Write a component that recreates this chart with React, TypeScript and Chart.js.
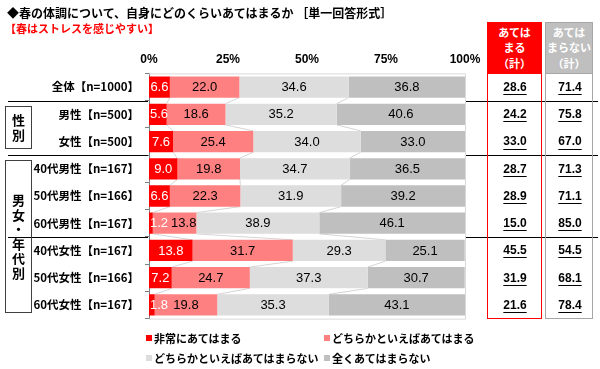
import React, { useEffect, useRef } from 'react';
import { Chart, registerables } from 'chart.js';

Chart.register(...registerables);

const categories = [
  '全体【n=1000】',
  '男性【n=500】',
  '女性【n=500】',
  '40代男性【n=167】',
  '50代男性【n=166】',
  '60代男性【n=167】',
  '40代女性【n=167】',
  '50代女性【n=166】',
  '60代女性【n=167】',
];
const seriesNames = ['非常にあてはまる', 'どちらかといえばあてはまる', 'どちらかといえばあてはまらない', '全くあてはまらない'];
const veryMuch = [6.6, 5.6, 7.6, 9.0, 6.6, 1.2, 13.8, 7.2, 1.8];
const somewhat = [22.0, 18.6, 25.4, 19.8, 22.3, 13.8, 31.7, 24.7, 19.8];
const somewhatNot = [34.6, 35.2, 34.0, 34.7, 31.9, 38.9, 29.3, 37.3, 35.3];
const notAtAll = [36.8, 40.6, 33.0, 36.5, 39.2, 46.1, 25.1, 30.7, 43.1];
const applyTotal = [28.6, 24.2, 33.0, 28.7, 28.9, 15.0, 45.5, 31.9, 21.6];
const notApplyTotal = [71.4, 75.8, 67.0, 71.3, 71.1, 85.0, 54.5, 68.1, 78.4];
const xTickValues = [0, 25, 50, 75, 100];
const groupBreaks = [0, 2, 5]; // separator after these category indices
const groupBoxes = [
  { label: '性別', from: 1, to: 2 },
  { label: '男女・年代別', from: 3, to: 8 },
];
const colors = ['#FF0000', '#FF8080', '#DDDDDD', '#BFBFBF'];

const JP = '"Noto Sans CJK JP", "Noto Sans", sans-serif';
const NUM = '"Liberation Sans", Arial, sans-serif';

const RED_COL = { left: 487, right: 542, cx: 515 };
const GRAY_COL = { left: 545, right: 593, cx: 570 };

const overlayPlugin = {
  id: 'overlay',
  beforeDatasetsDraw(chart: any) {
    const { ctx, chartArea: ca, scales } = chart;
    const y = scales.y;
    const x = scales.x;
    ctx.save();
    // plot area border
    ctx.strokeStyle = '#D9D9D9';
    ctx.lineWidth = 1;
    ctx.beginPath();
    ctx.moveTo(ca.left, ca.top + 0.5);
    ctx.lineTo(ca.right + 0.5, ca.top + 0.5);
    ctx.lineTo(ca.right + 0.5, ca.bottom + 0.5);
    ctx.lineTo(ca.left, ca.bottom + 0.5);
    ctx.stroke();
    // series lines
    const meta0 = chart.getDatasetMeta(0);
    const series = chart.data.datasets.map((d: any) => d.data as number[]);
    ctx.strokeStyle = '#D4D4D4';
    for (let i = 0; i < categories.length - 1; i++) {
      const e0: any = meta0.data[i];
      const e1: any = meta0.data[i + 1];
      const h0 = e0.getProps(['height'], true).height;
      const h1 = e1.getProps(['height'], true).height;
      const yA = y.getPixelForValue(i) + h0 / 2;
      const yB = y.getPixelForValue(i + 1) - h1 / 2;
      let cA = 0;
      let cB = 0;
      for (let s = 0; s < series.length - 1; s++) {
        cA += series[s][i];
        cB += series[s][i + 1];
        ctx.beginPath();
        ctx.moveTo(x.getPixelForValue(cA), yA);
        ctx.lineTo(x.getPixelForValue(cB), yB);
        ctx.stroke();
      }
    }
    ctx.restore();
  },
  afterDatasetsDraw(chart: any) {
    const { ctx, chartArea: ca, scales } = chart;
    const y = scales.y;
    ctx.save();
    // data labels
    ctx.textBaseline = 'middle';
    ctx.textAlign = 'center';
    ctx.font = `13px ${NUM}`;
    const rightEdges: number[] = categories.map(() => -Infinity);
    chart.data.datasets.forEach((ds: any, di: number) => {
      const meta = chart.getDatasetMeta(di);
      meta.data.forEach((el: any, i: number) => {
        const v = ds.data[i] as number;
        const p = el.getProps(['x', 'base', 'y'], true);
        const text = v.toFixed(1);
        const w = ctx.measureText(text).width;
        let cx = (p.x + p.base) / 2;
        if (cx - w / 2 < ca.left + 1) cx = ca.left + 1 + w / 2;
        if (cx - w / 2 < rightEdges[i] + 3) cx = rightEdges[i] + 3 + w / 2;
        rightEdges[i] = cx + w / 2;
        ctx.fillStyle = di === 0 ? '#FFFFFF' : '#000000';
        ctx.fillText(text, cx, p.y + 0.5);
      });
    });
    // separators
    ctx.strokeStyle = '#000000';
    ctx.lineWidth = 1;
    groupBreaks.forEach((gi) => {
      const yy = Math.round((y.getPixelForValue(gi) + y.getPixelForValue(gi + 1)) / 2) + 0.5;
      ctx.beginPath();
      ctx.moveTo(8, yy);
      ctx.lineTo(ca.left - 1, yy);
      ctx.moveTo(ca.right + 1, yy);
      ctx.lineTo(598, yy);
      ctx.stroke();
    });
    // group boxes
    const step = y.getPixelForValue(1) - y.getPixelForValue(0);
    groupBoxes.forEach((g) => {
      const top = Math.round(y.getPixelForValue(g.from) - step / 2 + 5) + 0.5;
      const bottom = Math.round(y.getPixelForValue(g.to) + step / 2 - 7) + 0.5;
      ctx.strokeStyle = '#404040';
      ctx.strokeRect(5.5, top, 26, bottom - top);
      ctx.fillStyle = '#000000';
      ctx.font = `bold 13px ${JP}`;
      ctx.textAlign = 'center';
      const chars = Array.from(g.label);
      const lh = 14.5;
      const mid = (top + bottom) / 2;
      chars.forEach((c, k) => {
        ctx.fillText(c, 18.5, mid + (k - (chars.length - 1) / 2) * lh);
      });
    });
    // right-hand totals
    ctx.font = `bold 12px ${NUM}`;
    ctx.fillStyle = '#000000';
    ctx.strokeStyle = '#000000';
    ctx.textAlign = 'center';
    categories.forEach((_, i) => {
      const yy = y.getPixelForValue(i);
      [
        { v: applyTotal[i], cx: RED_COL.cx },
        { v: notApplyTotal[i], cx: GRAY_COL.cx },
      ].forEach(({ v, cx }) => {
        const t = v.toFixed(1);
        const w = ctx.measureText(t).width;
        ctx.fillText(t, cx, yy + 0.5);
        ctx.beginPath();
        ctx.moveTo(cx - w / 2, Math.round(yy + 7) + 0.5);
        ctx.lineTo(cx + w / 2, Math.round(yy + 7) + 0.5);
        ctx.stroke();
      });
    });
    ctx.restore();
  },
};

export default function App() {
  const ref = useRef<HTMLCanvasElement>(null);

  useEffect(() => {
    if (!ref.current) return;
    const data = [veryMuch, somewhat, somewhatNot, notAtAll];
    const chart = new Chart(ref.current, {
      type: 'bar',
      data: {
        labels: categories,
        datasets: data.map((d, k) => ({
          label: seriesNames[k],
          data: d,
          backgroundColor: colors[k],
          borderWidth: 0,
          barPercentage: 0.78,
          categoryPercentage: 1.0,
        })),
      },
      options: {
        indexAxis: 'y',
        animation: false,
        responsive: false,
        maintainAspectRatio: false,
        devicePixelRatio: 1,
        layout: { padding: { left: 0, right: 135, top: 0, bottom: 50.4 } },
        plugins: {
          legend: { display: false },
          tooltip: { enabled: false },
          title: { display: false },
        },
        scales: {
          x: {
            position: 'top',
            stacked: true,
            min: 0,
            max: 100,
            afterBuildTicks: (scale: any) => {
              scale.ticks = xTickValues.map((v) => ({ value: v }));
            },
            afterFit: (scale: any) => {
              scale.height = 73.4;
            },
            grid: { display: false, drawTicks: false },
            border: { display: false },
            ticks: {
              padding: 7,
              color: '#000000',
              font: { family: NUM, size: 12, weight: 'bold' },
              callback: (v: any) => `${v}%`,
            },
          },
          y: {
            stacked: true,
            afterFit: (scale: any) => {
              scale.width = 149;
            },
            grid: {
              drawOnChartArea: false,
              tickLength: 4,
              color: '#7F7F7F',
              offset: true,
            },
            border: { display: true, color: '#7F7F7F' },
            ticks: {
              padding: 6,
              color: '#000000',
              font: { family: JP, size: 11.5, weight: 'bold' },
            },
          },
        },
      },
      plugins: [overlayPlugin],
    });
    return () => chart.destroy();
  }, []);

  const legendItems = [
    { name: seriesNames[0], color: colors[0], left: 146, top: 337.5 },
    { name: seriesNames[1], color: colors[1], left: 324, top: 337.5 },
    { name: seriesNames[2], color: colors[2], left: 146, top: 357.5 },
    { name: seriesNames[3], color: colors[3], left: 324, top: 357.5 },
  ];

  const headerStyle: React.CSSProperties = {
    position: 'absolute',
    top: 22,
    height: 52,
    color: '#FFFFFF',
    fontFamily: JP,
    fontWeight: 'bold',
    fontSize: 11,
    lineHeight: '15.5px',
    textAlign: 'center',
    display: 'flex',
    flexDirection: 'column',
    justifyContent: 'center',
    boxSizing: 'border-box',
  };

  return (
    <div style={{ position: 'absolute', left: 0, top: 0, width: 600, height: 369, background: '#FFFFFF', overflow: 'hidden' }}>
      <canvas ref={ref} width={600} height={369} style={{ position: 'absolute', left: 0, top: 0, width: 600, height: 369 }} />
      <div style={{ position: 'absolute', left: 7, top: 4, fontFamily: JP, fontWeight: 'bold', fontSize: 12, lineHeight: '17px', color: '#000', whiteSpace: 'nowrap' }}>
        ◆春の体調について、自身にどのくらいあてはまるか ［単一回答形式］
      </div>
      <div style={{ position: 'absolute', left: 5, top: 20, fontFamily: JP, fontWeight: 'bold', fontSize: 11, lineHeight: '16px', color: '#FF0000', whiteSpace: 'nowrap' }}>
        【春はストレスを感じやすい】
      </div>
      {/* right columns */}
      <div style={{ position: 'absolute', left: RED_COL.left, top: 22, width: RED_COL.right - RED_COL.left, height: 297, border: '1px solid #FF0000', boxSizing: 'border-box' }} />
      <div style={{ ...headerStyle, left: RED_COL.left, width: RED_COL.right - RED_COL.left, background: '#FF0000' }}>
        <div>あては</div>
        <div>まる</div>
        <div>（計）</div>
      </div>
      <div style={{ position: 'absolute', left: GRAY_COL.left, top: 22, width: GRAY_COL.right - GRAY_COL.left, height: 297, border: '1px solid #A6A6A6', boxSizing: 'border-box' }} />
      <div style={{ ...headerStyle, left: GRAY_COL.left, width: GRAY_COL.right - GRAY_COL.left, background: '#BFBFBF', border: '1px solid #A6A6A6' }}>
        <div>あては</div>
        <div>まらない</div>
        <div>（計）</div>
      </div>
      {/* legend */}
      {legendItems.map((it) => (
        <div key={it.name} style={{ position: 'absolute', left: it.left, top: it.top - 8, height: 16, display: 'flex', alignItems: 'center', whiteSpace: 'nowrap' }}>
          <span style={{ display: 'inline-block', width: 6, height: 6, background: it.color, marginRight: 2 }} />
          <span style={{ fontFamily: JP, fontWeight: 'bold', fontSize: 11, lineHeight: '16px', color: '#000' }}>{it.name}</span>
        </div>
      ))}
    </div>
  );
}
